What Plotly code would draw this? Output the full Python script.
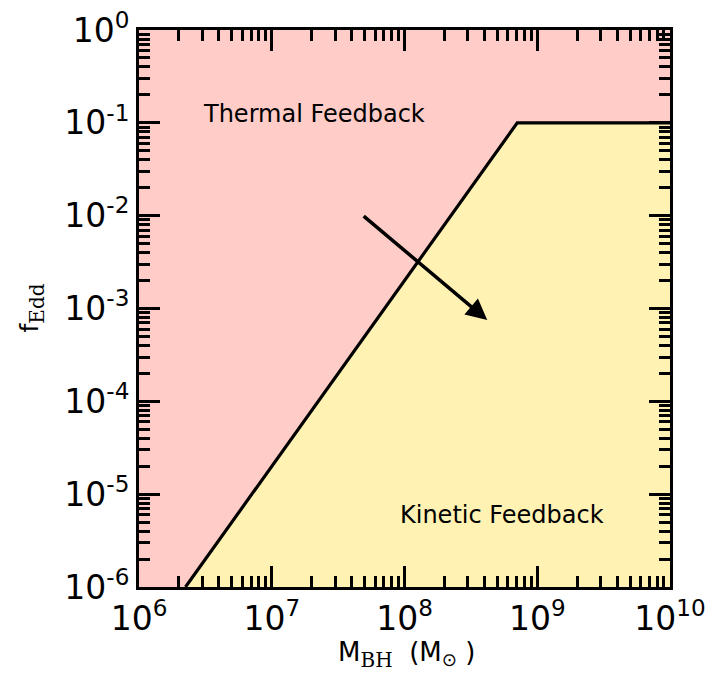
import plotly.graph_objects as go
import numpy as np

# Data: threshold between thermal and kinetic feedback
boundary_mbh = [2.24e6, 7.07e8, 1e10]
boundary_fedd = [1e-6, 0.1, 0.1]
region_mbh = [2.24e6, 7.07e8, 1e10, 1e10]
region_fedd = [1e-6, 0.1, 0.1, 1e-6]

x_major = [1e6, 1e7, 1e8, 1e9, 1e10]
x_labels = ["10<sup>6</sup>", "10<sup>7</sup>", "10<sup>8</sup>", "10<sup>9</sup>", "10<sup>10</sup>"]
y_major = [1e-6, 1e-5, 1e-4, 1e-3, 1e-2, 1e-1, 1e0]
y_labels = ["10<sup>-6</sup>", "10<sup>-5</sup>", "10<sup>-4</sup>", "10<sup>-3</sup>",
            "10<sup>-2</sup>", "10<sup>-1</sup>", "10<sup>0</sup>"]
x_minor = [m * 10**e for e in range(6, 10) for m in range(2, 10)]
y_minor = [m * 10.0**e for e in range(-6, 0) for m in range(2, 10)]

arrow_start = (4.8e7, 1.02e-2)
arrow_end = (4.2e8, 7.5e-4)

PINK = "rgb(255,204,199)"
YELLOW = "rgb(255,242,178)"
FONT = "DejaVu Sans"
NB = "\u00a0"
SUBSPAN = "<span style='font-family:DejaVu Serif;font-size:28.6px'><sub>{}</sub></span>"

fig = go.Figure()
fig.add_trace(go.Scatter(x=region_mbh, y=region_fedd, fill="toself", fillcolor=YELLOW,
                         mode="lines", line=dict(width=0, color=YELLOW), hoverinfo="skip",
                         showlegend=False))
fig.add_trace(go.Scatter(x=boundary_mbh, y=boundary_fedd, mode="lines",
                         line=dict(color="black", width=3.2), showlegend=False))

fig.add_annotation(x=np.log10(arrow_end[0]), y=np.log10(arrow_end[1]),
                   ax=np.log10(arrow_start[0]), ay=np.log10(arrow_start[1]),
                   xref="x", yref="y", axref="x", ayref="y",
                   showarrow=True, arrowhead=2, arrowsize=1.2, arrowwidth=3.5,
                   arrowcolor="black", text="")
fig.add_annotation(x=np.log10(2.08e7), y=np.log10(0.124), xref="x", yref="y",
                   text="Thermal Feedback", showarrow=False,
                   font=dict(family=FONT, size=24, color="black"))
fig.add_annotation(x=np.log10(5.4e8), y=np.log10(5.96e-6), xref="x", yref="y",
                   text="Kinetic Feedback", showarrow=False,
                   font=dict(family=FONT, size=24, color="black"))

# axis titles
fig.add_annotation(x=0.5, y=0, xref="paper", yref="paper", xshift=2, yshift=-67, yanchor="middle",
                   text="M" + SUBSPAN.format("BH") + NB + " (M<sub>⊙</sub>" + NB + ")",
                   showarrow=False, font=dict(family=FONT, size=26, color="black"))
fig.add_annotation(x=0, y=0.5, xref="paper", yref="paper", xshift=-108, xanchor="center",
                   yanchor="middle", textangle=-90,
                   text="f" + SUBSPAN.format("Edd"),
                   showarrow=False, font=dict(family=FONT, size=25, color="black"))

axis_common = dict(
    type="log", showline=True, linecolor="black", linewidth=3, mirror="allticks",
    ticks="inside", ticklen=21, tickwidth=3, tickcolor="black",
    showgrid=False, zeroline=False, automargin=False,
    tickfont=dict(family=FONT, size=33, color="black"),
)
fig.update_xaxes(**axis_common, range=[6, 10], tickmode="array", tickvals=x_major,
                 ticktext=x_labels,
                 minor=dict(tickmode="array", tickvals=x_minor, ticks="inside",
                            ticklen=11, tickwidth=3, tickcolor="black", showgrid=False))
fig.update_yaxes(**axis_common, range=[-6, 0], tickmode="array", tickvals=y_major,
                 ticktext=y_labels,
                 minor=dict(tickmode="array", tickvals=y_minor, ticks="inside",
                            ticklen=11, tickwidth=3, tickcolor="black", showgrid=False))

fig.update_layout(width=717, height=674, margin=dict(l=139, r=47, t=30, b=87),
                  plot_bgcolor=PINK, paper_bgcolor="white")
fig.write_html("out.html")
